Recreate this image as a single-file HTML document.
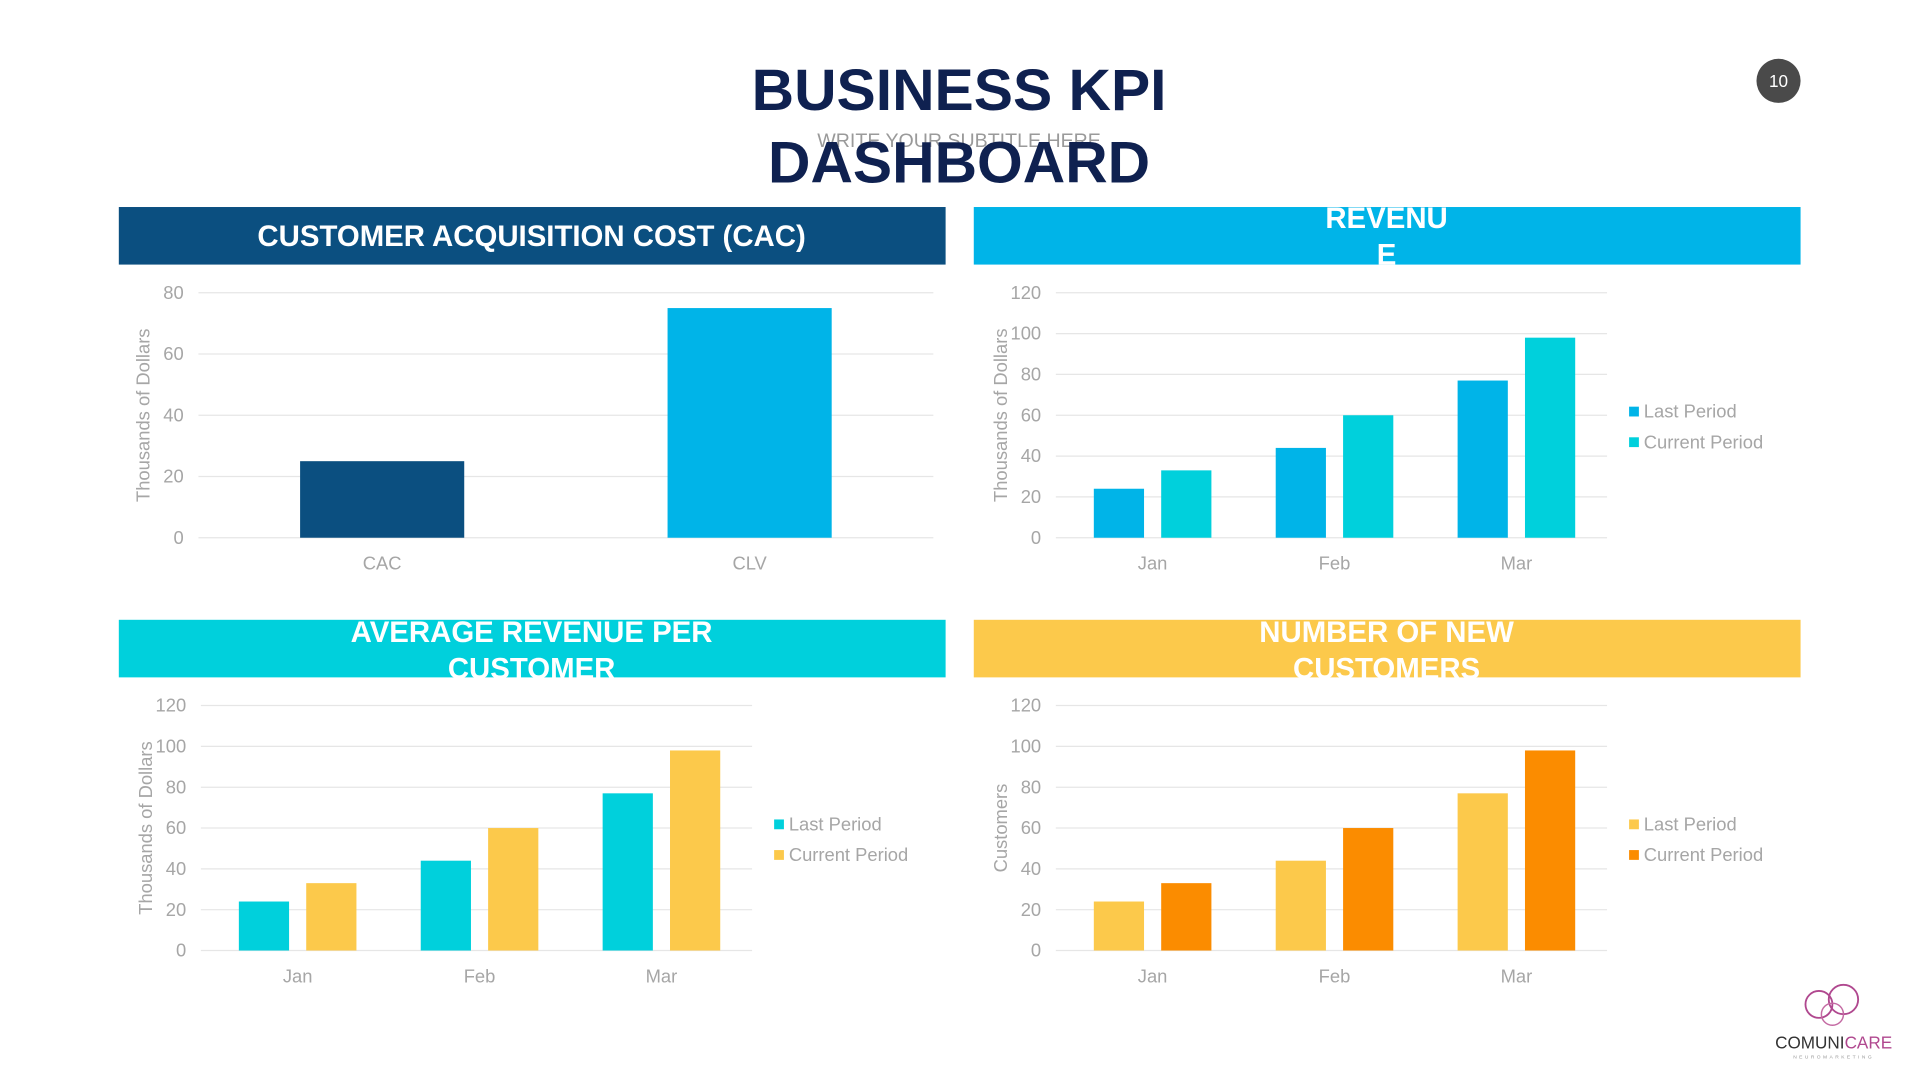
<!DOCTYPE html>
<html><head><meta charset="utf-8"><style>
html,body{margin:0;padding:0;background:#fff;}
svg{display:block;font-family:"Liberation Sans",sans-serif;}
</style></head><body>
<svg id="s" width="1920" height="1080" viewBox="0 0 1567.5 881.7" xmlns="http://www.w3.org/2000/svg">
<rect width="1567.5" height="881.7" fill="#fff"/>
<text x="783" y="90" text-anchor="middle" font-size="48" font-weight="bold" fill="#0f2150">BUSINESS KPI</text>
<text x="783" y="120" text-anchor="middle" font-size="16" fill="#9a9a9a">WRITE YOUR SUBTITLE HERE</text>
<text x="783" y="149" text-anchor="middle" font-size="48" font-weight="bold" fill="#0f2150">DASHBOARD</text>
<circle cx="1452" cy="66" r="18" fill="#4a4a4a"/>
<text x="1452" y="71" text-anchor="middle" font-size="14" fill="#fff">10</text>

<rect x="97" y="169" width="675" height="47" fill="#0b4f80"/>
<text x="434" y="201" text-anchor="middle" font-size="24" font-weight="bold" fill="#fff">CUSTOMER ACQUISITION COST (CAC)</text>
<rect x="795" y="169" width="675" height="47" fill="#00b4e8"/>
<text x="1132" y="186" text-anchor="middle" font-size="24" font-weight="bold" fill="#fff">REVENU</text>
<text x="1132" y="216" text-anchor="middle" font-size="24" font-weight="bold" fill="#fff">E</text>
<rect x="97" y="506" width="675" height="47" fill="#00d0dc"/>
<text x="434" y="524" text-anchor="middle" font-size="24" font-weight="bold" fill="#fff">AVERAGE  REVENUE PER</text>
<text x="434" y="554" text-anchor="middle" font-size="24" font-weight="bold" fill="#fff">CUSTOMER</text>
<rect x="795" y="506" width="675" height="47" fill="#fcc94b"/>
<text x="1132" y="524" text-anchor="middle" font-size="24" font-weight="bold" fill="#fff">NUMBER OF NEW</text>
<text x="1132" y="554" text-anchor="middle" font-size="24" font-weight="bold" fill="#fff">CUSTOMERS</text>

<g>
<circle cx="1485" cy="820" r="11" fill="none" stroke="#b0488f" stroke-width="1.5"/>
<circle cx="1505" cy="816" r="12" fill="none" stroke="#b0488f" stroke-width="1.5"/>
<circle cx="1496" cy="828" r="9" fill="none" stroke="#c46aa3" stroke-width="1.2"/>
<text x="1497" y="856" text-anchor="middle" font-size="14" fill="#333">COMUNI<tspan fill="#b0488f">CARE</tspan></text>
<text x="1497" y="864" text-anchor="middle" font-size="4" fill="#999" letter-spacing="2">NEUROMARKETING</text>
</g>
<g id="charts"></g>
</svg>
<script>
// Chart 1: CAC vs CLV
const cacCategories = ["CAC", "CLV"];
const cacValues = [25, 75];
const cacTicks = [0, 20, 40, 60, 80];
// Months
const months = ["Jan", "Feb", "Mar"];
const revenueLast = [24, 44, 77];
const revenueCurrent = [33, 60, 98];
const arpcLast = [24, 44, 77];
const arpcCurrent = [33, 60, 98];
const customersLast = [24, 44, 77];
const customersCurrent = [33, 60, 98];
const groupTicks = [0, 20, 40, 60, 80, 100, 120];
const legendLabels = ["Last Period", "Current Period"];

const NS = "http://www.w3.org/2000/svg";
const root = document.getElementById("charts");
function mk(tag, attrs, parent) {
  const e = document.createElementNS(NS, tag);
  for (const k in attrs) e.setAttribute(k, attrs[k]);
  (parent || root).appendChild(e);
  return e;
}
function axes(g, x0, x1, y0, y1, ticks, maxV, title, prefix) {
  const yScale = v => y0 - (v / maxV) * (y0 - y1);
  ticks.forEach(t => {
    const l = mk("line", {x1: x0, x2: x1, y1: yScale(t), y2: yScale(t), stroke: "#e6e6e6", "stroke-width": 1}, g);
    
    
    const tx = mk("text", {x: x0 - 12, y: yScale(t) + 5, "text-anchor": "end", "font-size": 15, fill: "#a6a6a6"}, g);
    tx.textContent = t;
    
    
  });
  const cy = (y0 + y1) / 2;
  const ax = x0 - 40;
  const at = mk("text", {x: ax, y: cy, transform: `rotate(-90 ${ax} ${cy})`, "text-anchor": "middle", "font-size": 15, fill: "#a6a6a6"}, g);
  at.textContent = title;
  
  
  return yScale;
}
function catLabel(g, x, y, t, prefix) {
  const e = mk("text", {x: x, y: y, "text-anchor": "middle", "font-size": 15, fill: "#a6a6a6"}, g);
  e.textContent = t;
  
  
}
// Chart 1
(function () {
  const g = mk("g", {});
  
  
  const x0 = 162, x1 = 762, y0 = 439, y1 = 239;
  const ys = axes(g, x0, x1, y0, y1, cacTicks, 80, "Thousands of Dollars", "cac");
  const colors = ["#0b4f80", "#00b4e8"];
  const bw = (x1 - x0) / cacCategories.length;
  cacCategories.forEach((c, i) => {
    const cx = x0 + bw * (i + 0.5);
    const r = mk("rect", {x: cx - 67, y: ys(cacValues[i]), width: 134, height: y0 - ys(cacValues[i]), fill: colors[i]}, g);
    
    
    catLabel(g, cx, 465, c, "cac");
  });
})();
function grouped(ox, y0, last, cur, colors, title, prefix) {
  const g = mk("g", {});
  
  
  const x0 = ox, x1 = ox + 450, y1 = y0 - 200;
  const ys = axes(g, x0, x1, y0, y1, groupTicks, 120, title, prefix);
  const bw = 148.5;
  months.forEach((m, i) => {
    const gx = x0 + 31 + bw * i;
    const a = mk("rect", {x: gx, y: ys(last[i]), width: 41, height: y0 - ys(last[i]), fill: colors[0]}, g);
    
    
    const b = mk("rect", {x: gx + 55, y: ys(cur[i]), width: 41, height: y0 - ys(cur[i]), fill: colors[1]}, g);
    
    
    catLabel(g, gx + 48, y0 + 26, m, prefix);
  });
  legendLabels.forEach((l, i) => {
    const ly = y0 - 102 + i * 25;
    const s = mk("rect", {x: x1 + 18, y: ly - 5, width: 8, height: 8, fill: colors[i]}, g);
    
    
    const t = mk("text", {x: x1 + 30, y: ly + 4, "font-size": 15, fill: "#a6a6a6"}, g);
    t.textContent = l;
    
    
  });
}
grouped(862, 439, revenueLast, revenueCurrent, ["#00b4e8", "#00d0dc"], "Thousands of Dollars", "revenue");
grouped(164, 776, arpcLast, arpcCurrent, ["#00d0dc", "#fcc94b"], "Thousands of Dollars", "arpc");
grouped(862, 776, customersLast, customersCurrent, ["#fcc94b", "#fb8c00"], "Customers", "customers");
</script>
</body></html>
